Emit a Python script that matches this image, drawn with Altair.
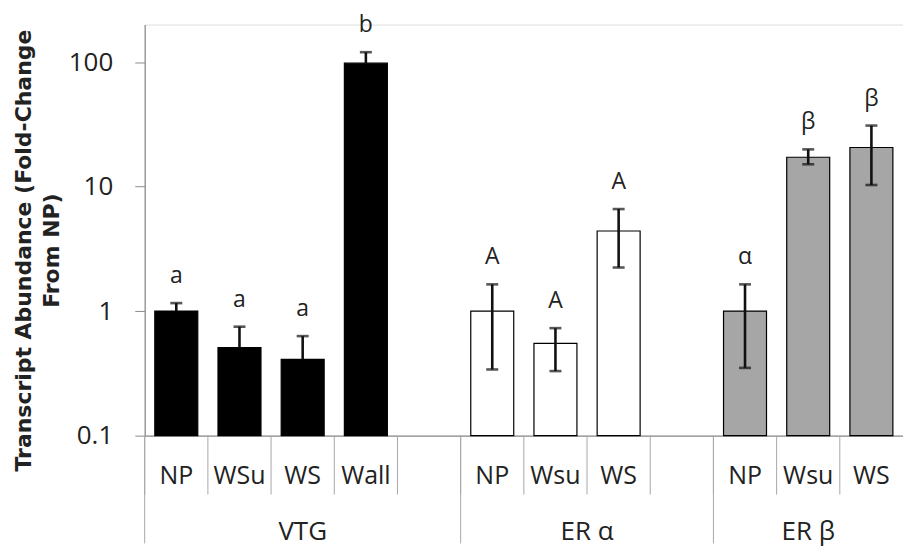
import altair as alt
import pandas as pd

# ---- data ----
groups = ["VTG", "ER α", "ER β"]
subcats = [["NP", "WSu", "WS", "Wall"], ["NP", "Wsu", "WS"], ["NP", "Wsu", "WS"]]
means = [1.0, 0.51, 0.41, 98.0, 1.0, 0.55, 4.4, 1.0, 17.2, 20.6]
err_hi = [1.16, 0.75, 0.63, 120.0, 1.64, 0.73, 6.6, 1.64, 19.9, 30.9]
err_lo = [None, None, None, None, 0.34, 0.33, 2.24, 0.35, 15.1, 10.3]
letters = ["a", "a", "a", "b", "A", "A", "A", "α", "β", "β"]
y_ticks = [0.1, 1, 10, 100]
y_min, y_max = 0.1, 200

# ---- build tables ----
slots, slot_start = [], []
bar_rows, group_rows = [], []
k = 0
for gi, (g, subs) in enumerate(zip(groups, subcats)):
    start = len(slots)
    for si, s in enumerate(subs):
        key = f"{g}·{s}"
        slots.append(key)
        slot_start.append(si == 0)
        bar_rows.append(dict(slot=key, group=g, mean=means[k], hi=err_hi[k],
                             lo=err_lo[k],
                             base=err_lo[k] if err_lo[k] is not None else means[k],
                             letter=letters[k]))
        k += 1
    if gi < len(groups) - 1:
        slots.append(f"{g}·")
        slot_start.append(False)
    group_rows.append(dict(group=g, gx=(start + len(slots)) / 2))

bars = pd.DataFrame(bar_rows)
bars["ymin"] = y_min
seps = pd.DataFrame(dict(pos=list(range(len(slots))), start=slot_start))
glabels = pd.DataFrame(group_rows)

W, H = 760, 412
FONT = "Open Sans"
AX = "#8c8c8c"
SEP = "#a8a8a8"

xscale = alt.Scale(domain=slots, paddingInner=0.32, paddingOuter=0.16)
yscale = alt.Scale(type="log", domain=[y_min, y_max], nice=False)
xs = dict(scale=xscale, sort=slots)

x_enc = alt.X("slot:N", title=None, **xs,
              axis=alt.Axis(labelExpr="split(datum.label, '·')[1]", labelAngle=0,
                            labelFontSize=25, labelFont=FONT, labelColor="#222",
                            labelBaseline="middle", labelPadding=40, ticks=False,
                            domainColor=AX, domainWidth=1.2, labelFlush=False,
                            labelOverlap=False))
y_enc = alt.Y("mean:Q", scale=yscale,
              title=["Transcript Abundance (Fold-Change", "From NP)"],
              axis=alt.Axis(values=y_ticks, format="~g", grid=False, tickSize=10,
                            tickColor=AX, domainColor=AX, domainWidth=1.2,
                            labelFontSize=26, labelFont=FONT, labelColor="#222",
                            labelPadding=22, titleFontSize=22, titleFont="DejaVu Sans",
                            titleFontWeight="bold", titleColor="#222",
                            titleLineHeight=28, titlePadding=5, titleY=226))

color = alt.Color("group:N", scale=alt.Scale(domain=groups,
                                             range=["#000000", "#ffffff", "#a6a6a6"]),
                  legend=None)

base = alt.Chart(bars)

bar_layer = base.mark_bar(stroke="#000", strokeWidth=1.2).encode(
    x=x_enc, y=y_enc, y2=alt.Y2("ymin:Q"), color=color)

err_rule = base.mark_rule(color="#111", strokeWidth=2.6).encode(
    x=alt.X("slot:N", **xs), y=alt.Y("base:Q", scale=yscale), y2="hi:Q")

cap_hi = base.mark_tick(color="#111", size=12, thickness=2.6).encode(
    x=alt.X("slot:N", **xs), y=alt.Y("hi:Q", scale=yscale))

cap_lo = base.mark_tick(color="#111", size=12, thickness=2.6).encode(
    x=alt.X("slot:N", **xs), y=alt.Y("lo:Q", scale=yscale)
).transform_filter("isValid(datum.lo)")

letter_layer = base.mark_text(fontSize=23, font=FONT, color="#222", baseline="middle",
                              dy=-27).encode(
    x=alt.X("slot:N", **xs), y=alt.Y("hi:Q", scale=yscale), text="letter:N")

main = alt.layer(bar_layer, err_rule, cap_hi, cap_lo, letter_layer)

pos_scale = alt.Scale(domain=[0, len(slots)], nice=False, zero=False)

sep_short = alt.Chart(seps).mark_rule(color=SEP, strokeWidth=1).encode(
    x=alt.X("pos:Q", scale=pos_scale, axis=None),
    y=alt.value(H), y2=alt.value(H + 59))

sep_long = alt.Chart(seps).mark_rule(color=SEP, strokeWidth=1).encode(
    x=alt.X("pos:Q", scale=pos_scale, axis=None),
    y=alt.value(H), y2=alt.value(H + 108)
).transform_filter("datum.start")

group_layer = alt.Chart(glabels).mark_text(fontSize=26, font=FONT, color="#222",
                                           baseline="middle").encode(
    x=alt.X("gx:Q", scale=pos_scale, axis=None),
    y=alt.value(H + 97), text="group:N")

overlay = alt.layer(sep_short, sep_long, group_layer)

chart = alt.layer(overlay, main).resolve_scale(x="independent").properties(
    width=W, height=H, padding={"left": 4, "top": 5, "right": 0, "bottom": 4}
).configure_view(stroke=None).configure(background="white")

chart.save("out.html", embed_options={"renderer": "svg", "actions": False})
